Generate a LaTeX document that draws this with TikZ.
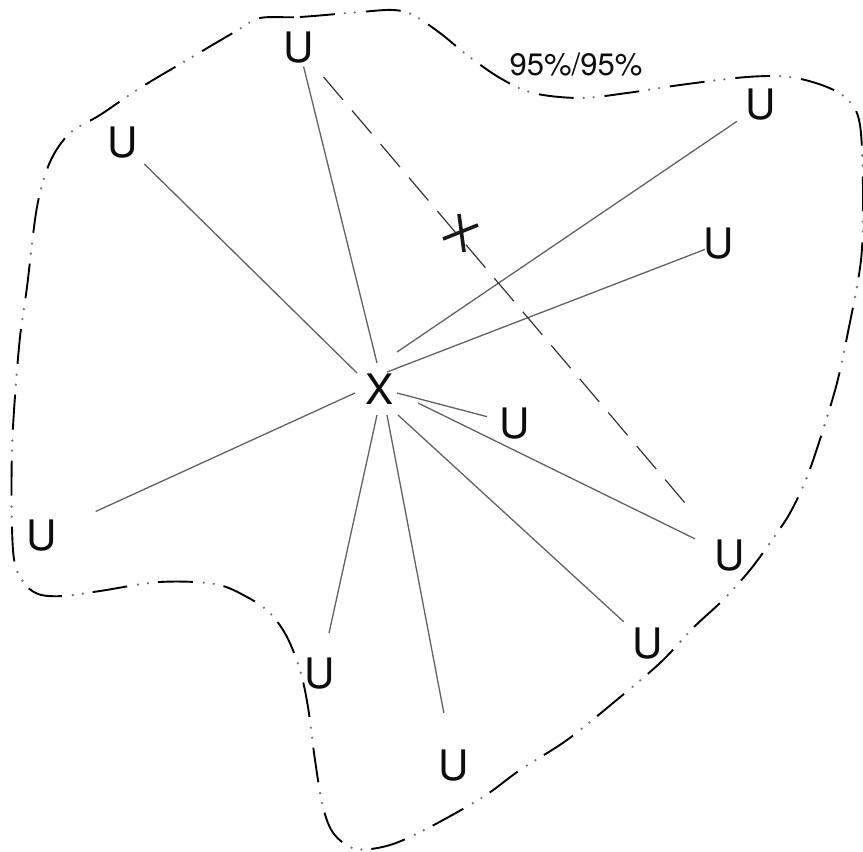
\documentclass[tikz,border=0pt]{standalone}
\usepackage{fontspec}
\setmainfont{TeX Gyre Heros}
\usetikzlibrary{calc}
\begin{document}
\begin{tikzpicture}[x=1pt,y=-1pt,
  lbl/.style={font=\fontsize{42}{42}\selectfont, inner sep=0pt, text=black!95},
  ray/.style={draw=black!62, line width=1.3pt},
  dashline/.style={draw=black!80, line width=1.2pt, dash pattern=on 30pt off 14pt},
  outlinedash/.style={draw=black, line width=1.9pt, dash pattern=on 35pt off 31pt},
  outlinedots/.style={draw=black!55, line width=2.6pt, line cap=round, dash pattern=on 0pt off 10pt on 0pt off 56pt, dash phase=21pt},
  crossmark/.style={draw=black!90, line width=3.6pt}]
\useasboundingbox (0,0) rectangle (863,852);

% outline
\def\outlinepath{plot[smooth cycle, tension=0.55] coordinates {
 (260,18) (300,17) (360,12) (393,10) (413,15) (440,33) (467,55) (500,78) (533,93)
 (580,98) (627,93) (680,85) (747,77) (790,77) (827,87) (849,101) (860,125) (863,190)
 (861,260) (847,337) (837,383) (823,430) (807,477) (790,513) (772,540) (750,570)
 (723,600) (693,628) (660,663) (613,703) (567,740) (520,770) (483,797) (430,827)
 (390,845) (356,849) (334,834) (323,807) (315,760) (308,707) (300,670) (287,637)
 (270,613) (247,597) (215,584) (160,582) (100,591) (64,596) (38,594) (22,580)
 (13,550) (12,450) (19,347) (27,287) (37,207) (50,162) (70,133) (100,115)
 (140,88) (187,60) (238,30)}}
\draw[outlinedash] \outlinepath;
\draw[outlinedots] \outlinepath;

% nodes
\node[lbl] (x) at (380,389) {X};
\node[lbl] (uT) at (299,48) {U};
\node[lbl] (uUL) at (123,143) {U};
\node[lbl] (uUR) at (761,105) {U};
\node[lbl] (uR) at (719,244) {U};
\node[lbl] (uN) at (515,424) {U};
\node[lbl] (uL) at (42,536) {U};
\node[lbl] (uLR) at (730,556) {U};
\node[lbl] (uBR) at (648,644) {U};
\node[lbl] (uBL) at (320,674) {U};
\node[lbl] (uB) at (454,766) {U};
\node[font=\fontsize{31}{31}\selectfont, inner sep=0pt, text=black!95] (pct) at (576,65) {95\%/95\%};

% ray ends near X
\coordinate (xT) at (377,363);
\coordinate (xUL) at (357,373);
\coordinate (xUR) at (397,352);
\coordinate (xR) at (387,372);
\coordinate (xN) at (397,393);
\coordinate (xLR) at (418,403);
\coordinate (xBR) at (398,415);
\coordinate (xB) at (387,415);
\coordinate (xBL) at (377,415);
\coordinate (xL) at (355,393);

\draw[ray] (xT) -- ($(uT)!19pt!(xT)$);
\draw[ray] (xUL) -- ($(uUL)!30pt!(xUL)$);
\draw[ray] (xUR) -- ($(uUR)!29pt!(xUR)$);
\draw[ray] (xR) -- ($(uR)!15pt!(xR)$);
\draw[ray] (xN) -- ($(uN)!29pt!(xN)$);
\draw[ray] (xLR) -- ($(uLR)!39pt!(xLR)$);
\draw[ray] (xBR) -- ($(uBR)!33pt!(xBR)$);
\draw[ray] (xB) -- ($(uB)!54pt!(xB)$);
\draw[ray] (xBL) -- ($(uBL)!42pt!(xBL)$);
\draw[ray] (xL) -- ($(uL)!59pt!(xL)$);

% dashed line between top U and lower-right U
\draw[dashline] ($(uT)!38pt!(uLR)$) -- ($(uLR)!58pt!(uT)$);

% cross mark
\coordinate (m) at (461,233);
\draw[crossmark] ($(m)+(-2,-19)$) -- ($(m)+(3,19)$);
\draw[crossmark] ($(m)+(-18,6)$) -- ($(m)+(17,-8)$);
\end{tikzpicture}
\end{document}
